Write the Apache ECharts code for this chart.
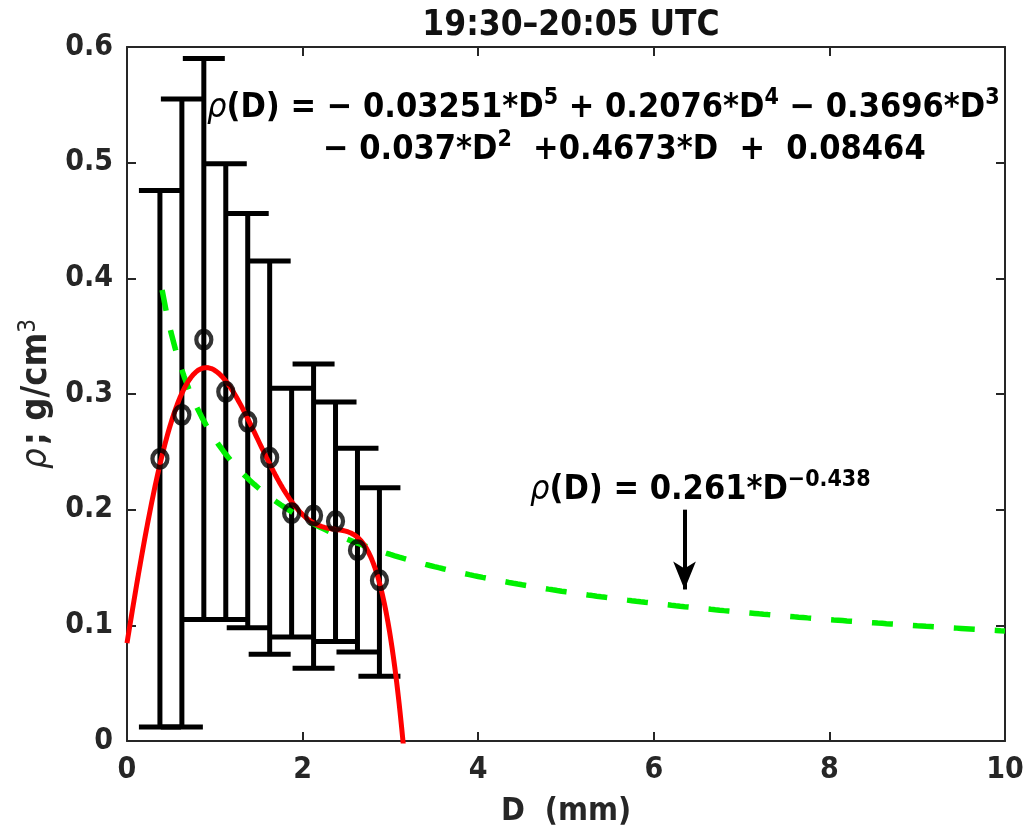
<!DOCTYPE html>
<html>
<head>
<meta charset="utf-8">
<script src="https://cdn.jsdelivr.net/npm/echarts@6/dist/echarts.min.js"></script>
<style>
  html, body { margin: 0; padding: 0; background: #fff; }
  #chart { width: 1031px; height: 833px; }
</style>
</head>
<body>
<div id="chart"></div>
<script>
// Bin centre diameters (mm) and measured bulk density with its spread (g/cm^3)
const diameters   = [0.375, 0.625, 0.875, 1.125, 1.375, 1.625, 1.875, 2.125, 2.375, 2.625, 2.875];
const meanDensity = [0.244, 0.282, 0.347, 0.302, 0.276, 0.245, 0.197, 0.195, 0.190, 0.165, 0.139];
const lowDensity  = [0.012, 0.012, 0.105, 0.105, 0.098, 0.075, 0.090, 0.063, 0.086, 0.077, 0.056];
const highDensity = [0.476, 0.555, 0.590, 0.499, 0.456, 0.415, 0.305, 0.326, 0.293, 0.253, 0.219];

// Fitted relations as printed on the figure
const polyCoeffs = [-0.03251, 0.2076, -0.3696, -0.037, 0.4673, 0.08464]; // D^5 ... D^0
const powerA = 0.261;
const powerB = -0.438;

// Axis ticks
const xTicks = [0, 2, 4, 6, 8, 10];
const yTicks = [0, 0.1, 0.2, 0.3, 0.4, 0.5, 0.6];

const FONT = '"DejaVu Sans Condensed", "DejaVu Sans"';
const AXIS_COLOR = '#262626';

function polyAt(d) {
  return polyCoeffs.reduce((acc, c) => acc * d + c, 0);
}
function powerAt(d) {
  return powerA * Math.pow(d, powerB);
}

// Curves evaluated along D
const polyCurve = [];
for (let i = 0; i <= 330; i++) {
  const d = i / 100;
  polyCurve.push([d, polyAt(d)]);
}
const powerCurve = [];
for (let i = 40; i <= 1000; i += 5) {
  const d = i / 100;
  powerCurve.push([d, powerAt(d)]);
}

const errorData = diameters.map((d, i) => [d, lowDensity[i], highDensity[i]]);
const pointData = diameters.map((d, i) => [d, meanDensity[i]]);

const chart = echarts.init(document.getElementById('chart'));

const axisCommon = {
  type: 'value',
  axisLine: { show: true, onZero: false, lineStyle: { color: AXIS_COLOR, width: 2 } },
  axisTick: { show: true, inside: true, length: 9, lineStyle: { color: AXIS_COLOR, width: 2 } },
  splitLine: { show: false }
};
const labelStyle = { fontFamily: FONT, fontWeight: 'bold', fontSize: 30, color: '#262626' };

const eqRich = {
  it: { fontFamily: FONT, fontStyle: 'italic', fontSize: 34, lineHeight: 42, fill: '#000' },
  b: { fontFamily: FONT, fontWeight: 'bold', fontSize: 34, lineHeight: 42, fill: '#000' },
  sup: { fontFamily: FONT, fontWeight: 'bold', fontSize: 23, lineHeight: 30, verticalAlign: 'top', fill: '#000' }
};

chart.setOption({
  animation: false,
  backgroundColor: '#fff',
  title: {
    text: '19:30\u201320:05 UTC',
    left: 566, top: 3, textAlign: 'center',
    textStyle: { fontFamily: FONT, fontWeight: 'bold', fontSize: 35, color: '#111' }
  },
  grid: { left: 127, right: 26, top: 47, bottom: 92, containLabel: false },
  xAxis: [
    Object.assign({}, axisCommon, {
      min: xTicks[0], max: xTicks[xTicks.length - 1], interval: 2, position: 'bottom',
      axisLabel: Object.assign({ margin: 14 }, labelStyle),
      name: 'D  (mm)', nameLocation: 'middle', nameGap: 55,
      nameTextStyle: { fontFamily: FONT, fontWeight: 'bold', fontSize: 32, color: '#262626' }
    }),
    Object.assign({}, axisCommon, {
      min: xTicks[0], max: xTicks[xTicks.length - 1], interval: 2, position: 'top',
      axisLabel: { show: false }
    })
  ],
  yAxis: [
    Object.assign({}, axisCommon, {
      min: yTicks[0], max: yTicks[yTicks.length - 1], interval: 0.1, position: 'left',
      axisLabel: Object.assign({ margin: 14 }, labelStyle),
      name: '{it|\u03c1} {b|; g/cm}{sup|3}', nameLocation: 'middle', nameGap: 57, nameRotate: 90,
      nameTextStyle: {
        rich: {
          it: { fontFamily: FONT, fontStyle: 'italic', fontSize: 36, lineHeight: 40, color: '#262626' },
          b: { fontFamily: FONT, fontWeight: 'bold', fontSize: 36, lineHeight: 40, color: '#262626' },
          sup: { fontFamily: FONT, fontSize: 24, color: '#262626', verticalAlign: 'top', lineHeight: 26 }
        }
      }
    }),
    Object.assign({}, axisCommon, {
      min: yTicks[0], max: yTicks[yTicks.length - 1], interval: 0.1, position: 'right',
      axisLabel: { show: false }
    })
  ],
  series: [
    {
      // vertical error bars with caps
      type: 'custom',
      name: 'spread',
      xAxisIndex: 0, yAxisIndex: 0,
      data: errorData,
      clip: true,
      renderItem: function (params, api) {
        const x = api.value(0);
        const lo = api.coord([x, api.value(1)]);
        const hi = api.coord([x, api.value(2)]);
        const half = 21;
        const style = { stroke: '#000', lineWidth: 5, fill: null };
        return {
          type: 'group',
          children: [
            { type: 'line', shape: { x1: lo[0], y1: lo[1], x2: hi[0], y2: hi[1] }, style: style },
            { type: 'line', shape: { x1: hi[0] - half, y1: hi[1], x2: hi[0] + half, y2: hi[1] }, style: style },
            { type: 'line', shape: { x1: lo[0] - half, y1: lo[1], x2: lo[0] + half, y2: lo[1] }, style: style }
          ]
        };
      },
      z: 2
    },
    {
      type: 'line',
      name: 'power fit',
      data: powerCurve,
      showSymbol: false,
      symbol: 'none',
      lineStyle: { color: '#00f000', width: 5.5, type: [21, 20] },
      clip: true,
      z: 3,
      markLine: {
        silent: true,
        symbol: ['none', 'arrow'],
        symbolSize: [17, 28],
        label: { show: false },
        lineStyle: { color: '#000', width: 4, type: 'solid' },
        data: [[{ coord: [6.35, 0.2] }, { coord: [6.35, 0.131] }]]
      }
    },
    {
      type: 'line',
      name: 'polynomial fit',
      data: polyCurve,
      showSymbol: false,
      symbol: 'none',
      lineStyle: { color: '#ff0000', width: 5 },
      clip: true,
      z: 4
    },
    {
      type: 'scatter',
      name: 'mean density',
      data: pointData,
      symbol: 'circle',
      symbolSize: [15, 17],
      itemStyle: { color: 'rgba(0,0,0,0)', borderColor: '#000', borderWidth: 4.5 },
      z: 5
    }
  ],
  graphic: [
    {
      type: 'text',
      left: 207, top: 87,
      style: {
        text: '{it|\u03c1}{b|(D) = \u2212 0.03251*D}{sup|5}{b| + 0.2076*D}{sup|4}{b| \u2212 0.3696*D}{sup|3}\n' +
              '{pad|}{b|\u2212 0.037*D}{sup|2}{b|  +0.4673*D  +  0.08464}',
        rich: Object.assign({ pad: { width: 116 } }, eqRich)
      },
      z: 10
    },
    {
      type: 'text',
      left: 530, top: 469,
      style: {
        text: '{it|\u03c1}{b|(D) = 0.261*D}{sup|\u22120.438}',
        rich: eqRich
      },
      z: 10
    }
  ]
});
</script>
</body>
</html>
